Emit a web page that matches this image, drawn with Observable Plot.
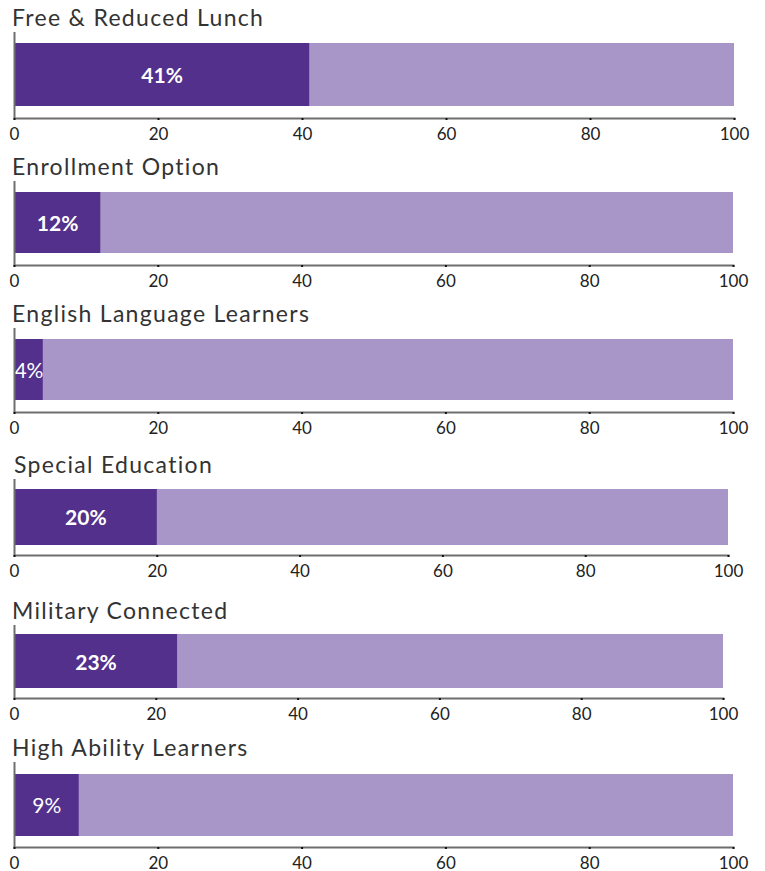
<!DOCTYPE html>
<html>
<head>
<meta charset="utf-8">
<script src="https://cdn.jsdelivr.net/npm/d3@7"></script>
<script src="https://cdn.jsdelivr.net/npm/@observablehq/plot@0.6"></script>
<style>
  html, body { margin: 0; padding: 0; background: #fff; }
  body { width: 765px; height: 871px; position: relative; overflow: hidden; font-family: Lato, "Open Sans", sans-serif; }
  .panel { position: absolute; left: 0; width: 765px; }
  .title { height: 30px; line-height: 30px; font-size: 23px; color: #333; padding-left: 12px; white-space: nowrap; letter-spacing: 1.3px; }
  svg { display: block; }
</style>
</head>
<body>
<div id="chart"></div>
<script>
const categories = ["Free & Reduced Lunch", "Enrollment Option", "English Language Learners", "Special Education", "Military Connected", "High Ability Learners"];
const values = [41, 12, 4, 20, 23, 9];
const totals = [100, 100, 100, 100, 100, 100];
const tickValues = [0, 20, 40, 60, 80, 100];

// layout per panel (page top, plot height, bar insets, right edge, label weight, title indent)
const layout = [
  {top: 2,   h: 86, it: 11, ib: 12, right: 734, w: 700, tx: 12},
  {top: 151, h: 84, it: 11, ib: 12, right: 733, w: 700, tx: 12},
  {top: 298, h: 84, it: 11, ib: 12, right: 733, w: 400, tx: 12},
  {top: 449, h: 76, it: 10, ib: 10, right: 728, w: 700, tx: 14},
  {top: 595, h: 73, it: 9,  ib: 10, right: 723, w: 700, tx: 12},
  {top: 732, h: 85, it: 12, ib: 11, right: 733, w: 400, tx: 12}
];

const dark = "#52308c";
const light = "#a896c8";
const axisGray = "#6e6e6e";
const root = document.getElementById("chart");

categories.forEach((cat, i) => {
  const L = layout[i];
  const panel = document.createElement("div");
  panel.className = "panel";
  panel.style.top = L.top + "px";
  const t = document.createElement("div");
  t.className = "title";
  t.style.paddingLeft = L.tx + "px";
  t.textContent = cat;
  panel.appendChild(t);

  const v = values[i];
  const plot = Plot.plot({
    width: 765,
    height: L.h + 28,
    marginLeft: 14,
    marginRight: 765 - L.right,
    marginTop: 0,
    marginBottom: 28,
    style: {fontFamily: "Lato, 'Open Sans', sans-serif", background: "transparent", overflow: "visible"},
    x: {domain: [0, totals[i]], axis: null},
    marks: [
      Plot.barX([totals[i]], {x1: 0, x2: d => d, fill: light, insetTop: L.it, insetBottom: L.ib}),
      Plot.barX([v], {x1: 0, x2: d => d, fill: dark, insetTop: L.it, insetBottom: L.ib}),
      Plot.text([v], {x: d => d / 2, text: d => d + "%", fill: "#fff", fontSize: 21, fontWeight: L.w, dy: 1, letterSpacing: 0.5}),
      Plot.ruleX([0], {stroke: axisGray, strokeWidth: 2}),
      Plot.frame({anchor: "bottom", stroke: axisGray, strokeWidth: 2}),
      Plot.axisX({ticks: tickValues, tickSize: 2, tickPadding: 7, tickFormat: d => String(d), fontSize: 17, fill: "#222", stroke: "#111", strokeWidth: 2, anchor: "bottom", letterSpacing: 1})
    ]
  });
  panel.appendChild(plot);
  root.appendChild(panel);
});
</script>
</body>
</html>
